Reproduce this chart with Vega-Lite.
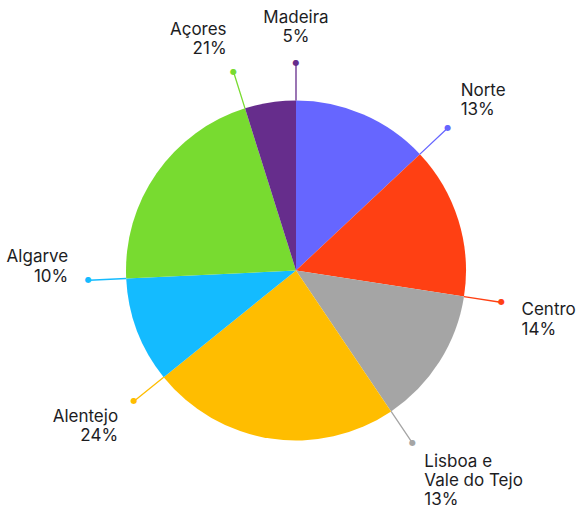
{
  "$schema": "https://vega.github.io/schema/vega-lite/v6.json",
  "width": 566,
  "height": 473,
  "autosize": {"type": "none"},
  "padding": {"left": 13, "right": 0, "top": 34, "bottom": 0},
  "background": "#ffffff",
  "config": {"view": {"stroke": null}},
  "data": {
    "values": [
      {"region": "Norte", "value": 13.0, "order": 1, "label": "Norte\n13%"},
      {"region": "Centro", "value": 14.45, "order": 2, "label": "Centro\n14%"},
      {"region": "Lisboa e Vale do Tejo", "value": 13.1, "order": 3, "label": "Lisboa e\nVale do Tejo\n13%"},
      {"region": "Alentejo", "value": 23.65, "order": 4, "label": "Alentejo\n24%"},
      {"region": "Algarve", "value": 10.05, "order": 5, "label": "Algarve\n10%"},
      {"region": "Açores", "value": 20.9, "order": 6, "label": "Açores\n21%"},
      {"region": "Madeira", "value": 4.85, "order": 7, "label": "Madeira\n5%"}
    ]
  },
  "transform": [
    {"stack": "value", "groupby": [], "sort": [{"field": "order", "order": "ascending"}], "as": ["start", "end"]}
  ],
  "encoding": {
    "theta": {"field": "end", "type": "quantitative", "scale": {"domain": [0, 100], "range": [0, 6.283185307179586]}},
    "color": {
      "field": "region",
      "type": "nominal",
      "legend": null,
      "scale": {
        "domain": ["Norte", "Centro", "Lisboa e Vale do Tejo", "Alentejo", "Algarve", "Açores", "Madeira"],
        "range": ["#6666ff", "#ff4013", "#a5a5a5", "#ffbd00", "#14bbff", "#78db30", "#662d8c"]
      }
    }
  },
  "layer": [
    {
      "mark": {"type": "arc", "outerRadius": 170, "innerRadius": 0},
      "encoding": {
        "theta": {"field": "start", "type": "quantitative"},
        "theta2": {"field": "end"}
      }
    },
    {
      "mark": {"type": "arc", "filled": false, "innerRadius": 170, "outerRadius": 207, "strokeWidth": 1.3},
      "encoding": {
        "theta": {"field": "end", "type": "quantitative"},
        "theta2": {"field": "end"}
      }
    },
    {
      "mark": {"type": "text", "radius": 208, "align": "center", "baseline": "middle", "font": "DejaVu Sans", "fontSize": 8, "text": "●"},
      "encoding": {
        "theta": {"field": "end", "type": "quantitative"}
      }
    },
    {
      "transform": [{"filter": {"field": "region", "equal": "Norte"}}],
      "mark": {"type": "text", "radius": 208, "align": "left", "baseline": "alphabetic", "dx": 13, "dy": -32, "lineBreak": "\n", "lineHeight": 19.3, "font": "Inter", "fontSize": 17},
      "encoding": {"text": {"field": "label"}, "color": {"value": "#1d1d1f"}}
    },
    {
      "transform": [{"filter": {"field": "region", "equal": "Centro"}}],
      "mark": {"type": "text", "radius": 208, "align": "left", "baseline": "alphabetic", "dx": 20, "dy": 13, "lineBreak": "\n", "lineHeight": 19.3, "font": "Inter", "fontSize": 17},
      "encoding": {"text": {"field": "label"}, "color": {"value": "#1d1d1f"}}
    },
    {
      "transform": [{"filter": {"field": "region", "equal": "Lisboa e Vale do Tejo"}}],
      "mark": {"type": "text", "radius": 208, "align": "left", "baseline": "alphabetic", "dx": 12, "dy": 24, "lineBreak": "\n", "lineHeight": 19.3, "font": "Inter", "fontSize": 17},
      "encoding": {"text": {"field": "label"}, "color": {"value": "#1d1d1f"}}
    },
    {
      "transform": [{"filter": {"field": "region", "equal": "Alentejo"}}],
      "mark": {"type": "text", "radius": 208, "align": "right", "baseline": "alphabetic", "dx": -16, "dy": 21, "lineBreak": "\n", "lineHeight": 19.3, "font": "Inter", "fontSize": 17},
      "encoding": {"text": {"field": "label"}, "color": {"value": "#1d1d1f"}}
    },
    {
      "transform": [{"filter": {"field": "region", "equal": "Algarve"}}],
      "mark": {"type": "text", "radius": 208, "align": "right", "baseline": "alphabetic", "dx": -20, "dy": -18, "lineBreak": "\n", "lineHeight": 19.3, "font": "Inter", "fontSize": 17},
      "encoding": {"text": {"field": "label"}, "color": {"value": "#1d1d1f"}}
    },
    {
      "transform": [{"filter": {"field": "region", "equal": "Açores"}}],
      "mark": {"type": "text", "radius": 208, "align": "right", "baseline": "alphabetic", "dx": -7, "dy": -37, "lineBreak": "\n", "lineHeight": 19.3, "font": "Inter", "fontSize": 17},
      "encoding": {"text": {"field": "label"}, "color": {"value": "#1d1d1f"}}
    },
    {
      "transform": [{"filter": {"field": "region", "equal": "Madeira"}}],
      "mark": {"type": "text", "radius": 208, "align": "center", "baseline": "alphabetic", "dx": 0, "dy": -40, "lineBreak": "\n", "lineHeight": 19.3, "font": "Inter", "fontSize": 17},
      "encoding": {"text": {"field": "label"}, "color": {"value": "#1d1d1f"}}
    }
  ]
}
